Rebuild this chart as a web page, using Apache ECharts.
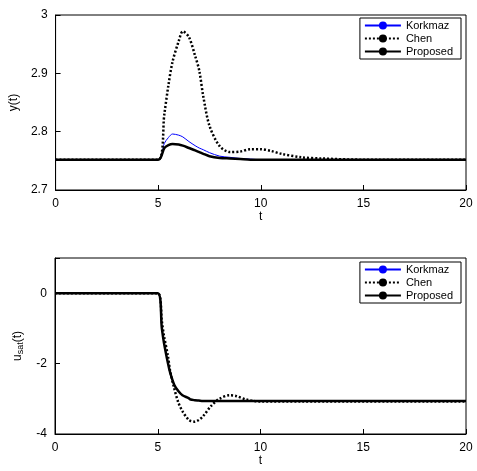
<!DOCTYPE html><html><head><meta charset="utf-8">
<script src="https://cdn.jsdelivr.net/npm/echarts@6/dist/echarts.min.js"></script>
<style>html,body{margin:0;background:#fff}#c{width:477px;height:471px}</style></head><body><div id="c"></div>
<script>
const t1 = [0,5,5.3,5.5,5.7,6,6.2,6.5,6.8,7,7.2,7.5,8,8.5,9,9.5,10,10.5,11,12,13,15,20];
const korkY = [2.752,2.752,2.78,2.790,2.796,2.794,2.791,2.783,2.776,2.772,2.769,2.764,2.758,2.756,2.754,2.753,2.752,2.752,2.752,2.752,2.752,2.752,2.752];
const chenY = [2.752,2.752,2.83,2.88,2.92,2.955,2.972,2.962,2.93,2.905,2.86,2.81,2.775,2.765,2.766,2.770,2.770,2.767,2.762,2.756,2.754,2.752,2.752];
const propY = [2.752,2.752,2.772,2.777,2.779,2.778,2.776,2.772,2.768,2.765,2.762,2.758,2.755,2.754,2.753,2.752,2.752,2.752,2.752,2.752,2.752,2.752,2.752];
const t2 = [0,5,5.2,5.3,5.5,5.6,5.8,6,6.2,6.5,6.6,6.8,7,7.2,7.6,8,8.5,8.8,9.3,10,12,20];
const chenU = [0,0,-0.8,-1.2,-1.8,-2.2,-2.7,-3.1,-3.35,-3.6,-3.63,-3.65,-3.6,-3.5,-3.2,-3.0,-2.9,-2.92,-3.02,-3.08,-3.08,-3.08];
const korkU = [0,0,-1.0,-1.4,-2.0,-2.25,-2.6,-2.78,-2.9,-2.98,-3.02,-3.04,-3.05,-3.06,-3.06,-3.06,-3.06,-3.06,-3.06,-3.06,-3.06,-3.06];
const propU = korkU.slice();
const z = (a,b)=>a.map((v,i)=>[v,b[i]]);
const ax = {axisLine:{show:true,onZero:false,lineStyle:{color:'#000'}},axisTick:{inside:true,lineStyle:{color:'#000'}},axisLabel:{color:'#000',fontSize:12,fontFamily:'Arial'},splitLine:{show:false}};
const xa = i=>({...ax,gridIndex:i,type:'value',min:0,max:20,interval:5,name:'t',nameLocation:'middle',nameGap:14,nameTextStyle:{color:'#000',fontSize:12}});
const lg = top=>({top:top,right:16,orient:'vertical',backgroundColor:'#fff',borderColor:'#000',borderWidth:1,borderRadius:0,padding:[2,8,2,4],itemGap:2,itemWidth:36,itemHeight:10,textStyle:{fontSize:11,color:'#000'},data:['Korkmaz','Chen','Proposed']});
const s = (name,data,i,st)=>({name,type:'line',xAxisIndex:i,yAxisIndex:i,data,symbol:'none',showSymbol:false,smooth:0.3,animation:false,lineStyle:st,itemStyle:{color:st.color}});
const K={color:'#0000ff',width:1}, C={color:'#000',width:2.5,type:[2,2]}, P={color:'#000',width:2.5};
echarts.init(document.getElementById('c')).setOption({
 animation:false,
 grid:[{left:55,right:11,top:15,height:175,show:true,borderColor:'#000',borderWidth:1},{left:55,right:11,top:258,height:176,show:true,borderColor:'#000',borderWidth:1}],
 legend:[lg(18),lg(262)],
 xAxis:[xa(0),xa(1)],
 yAxis:[{...ax,gridIndex:0,type:'value',min:2.7,max:3,interval:0.1,axisLabel:{...ax.axisLabel,formatter:v=>(Math.round(v*10)/10).toString()},name:'y(t)',nameLocation:'middle',nameGap:32,nameTextStyle:{color:'#000',fontSize:12}},
        {...ax,gridIndex:1,type:'value',min:-4,max:1,interval:2,axisLabel:{...ax.axisLabel,formatter:v=>v<=0?String(v):''},name:'u{s|sat}(t)',nameLocation:'middle',nameGap:30,nameTextStyle:{color:'#000',fontSize:12,rich:{s:{fontSize:9,verticalAlign:'bottom',padding:[6,0,0,0]}}}}],
 series:[s('Korkmaz',z(t1,korkY),0,K),s('Chen',z(t1,chenY),0,C),s('Proposed',z(t1,propY),0,P),
         s('Korkmaz',z(t2,korkU),1,K),s('Chen',z(t2,chenU),1,C),s('Proposed',z(t2,propU),1,P)]
});
</script></body></html>
